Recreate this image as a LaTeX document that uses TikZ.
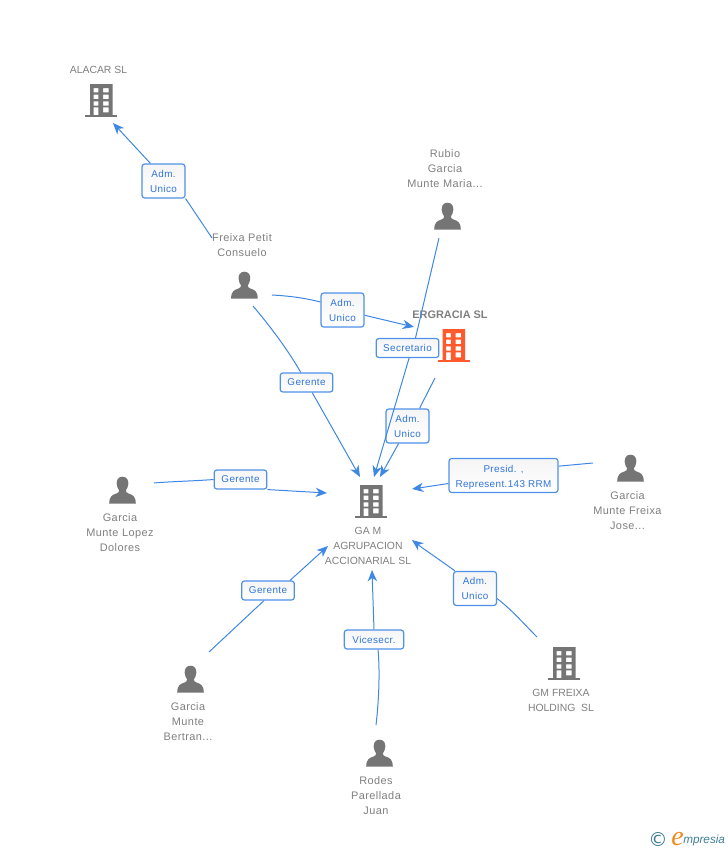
\documentclass[tikz,border=0pt]{standalone}
\usepackage{fontspec}
\setmainfont{Liberation Sans}
\newfontfamily\lsp[LetterSpace=4]{Liberation Sans}
\newfontfamily\logofont{DejaVu Sans}
\newfontfamily\logoe{Liberation Serif}
\usetikzlibrary{arrows.meta}
\definecolor{linkc}{HTML}{3F87E5}
\definecolor{boxc}{HTML}{4F90E8}
\definecolor{labc}{HTML}{2F74DC}
\definecolor{greyc}{HTML}{757575}
\definecolor{txtc}{HTML}{7F7F7F}
\definecolor{hot}{HTML}{FF5A2B}
\definecolor{logot}{HTML}{3F7F96}
\definecolor{logoo}{HTML}{F08A1D}
\definecolor{boxtop}{HTML}{F5F5F5}
\tikzset{
  x=0.75pt,y=-0.75pt,
  link/.style={draw=linkc,line width=0.75pt},
  arr/.style={link,-{Stealth[length=8.5pt,width=7pt,inset=2.6pt]}},
  relbox/.style={draw=boxc,line width=0.9pt,rounded corners=2pt,top color=boxtop,bottom color=white,
     text=labc,align=center,inner sep=0pt,font=\lsp\fontsize{7.4}{11.25}\selectfont},
  nametxt/.style={text=txtc,align=center,inner sep=0pt,font=\lsp\fontsize{8.2}{11.25}\selectfont},
  capstxt/.style={text=txtc,align=center,inner sep=0pt,font=\fontsize{7.8}{11.25}\selectfont},
  iconbox/.style={inner sep=0pt,minimum width=24pt,minimum height=24pt},
  pics/bldg/.style={code={
    \fill[#1,even odd rule] (-11,-16) rectangle (11.7,15)
      (-7.3,-12) rectangle (-2.7,-7.7) (2.2,-12) rectangle (7.5,-7.7)
      (-7.3,-5.3) rectangle (-2.7,-1) (2.2,-5.3) rectangle (7.5,-1)
      (-7.3,1.3) rectangle (-2.7,5.7) (2.2,1.3) rectangle (7.5,5.7)
      (-7.3,7.3) rectangle (-2.7,15) (2.2,7.3) rectangle (7.5,12.3);
    \fill[#1] (-15.7,14.8) rectangle (16,17.2);
  }},
  pics/pers/.style={code={
    \fill[greyc] (0,-13.8) .. controls (-4.5,-13.8) and (-6.2,-10) .. (-5.8,-6.5)
      .. controls (-5.5,-3.5) and (-4.5,-1.5) .. (-3.4,-0.2)
      .. controls (-3.4,1.5) and (-4,2.2) .. (-6,3)
      .. controls (-10,4.5) and (-13.2,5.2) .. (-13.3,13.2)
      -- (13.3,13.2)
      .. controls (13.2,5.2) and (10,4.5) .. (6,3)
      .. controls (4,2.2) and (3.4,1.5) .. (3.4,-0.2)
      .. controls (4.5,-1.5) and (5.5,-3.5) .. (5.8,-6.5)
      .. controls (6.2,-10) and (4.5,-13.8) .. (0,-13.8) -- cycle;
  }}
}
\begin{document}
\begin{tikzpicture}
\useasboundingbox (0,0) rectangle (728,850);
% icons
\pic at (101,100) {bldg=greyc};
\node[iconbox] (alacar) at (101,100) {};
\pic at (453.5,345) {bldg=hot};
\node[iconbox] (ergracia) at (453.5,345) {};
\pic at (371,501) {bldg=greyc};
\node[iconbox] (gam) at (371,501) {};
\pic at (564,663) {bldg=greyc};
\node[iconbox] (gmfreixa) at (564,663) {};
\pic at (244.4,285.5) {pers};
\node[iconbox] (freixa) at (244.4,285.5) {};
\pic at (447.5,216.5) {pers};
\node[iconbox] (rubio) at (447.5,216.5) {};
\pic at (630.5,468.5) {pers};
\node[iconbox] (josegm) at (630.5,468.5) {};
\pic at (122.5,490.5) {pers};
\node[iconbox] (lopez) at (122.5,490.5) {};
\pic at (190.5,679.5) {pers};
\node[iconbox] (bertran) at (190.5,679.5) {};
\pic at (379.5,753.5) {pers};
\node[iconbox] (rodes) at (379.5,753.5) {};
% names
\node[capstxt] (t1) at (98.5,70) {ALACAR SL};
\node[nametxt] (t2) at (242,245) {Freixa Petit\\Consuelo};
\node[nametxt] (t3) at (445,169) {Rubio\\Garcia\\Munte Maria...};
\node[nametxt,font=\bfseries\fontsize{8.2}{11.25}\selectfont] (t4) at (450,314.5) {ERGRACIA SL};
\node[capstxt] (t5) at (368,546) {GA M\\AGRUPACION\\ACCIONARIAL SL};
\node[nametxt] (t6) at (627.5,511) {Garcia\\Munte Freixa\\Jose...};
\node[nametxt] (t7) at (120,533) {Garcia\\Munte Lopez\\Dolores};
\node[nametxt] (t8) at (188,722) {Garcia\\Munte\\Bertran...};
\node[nametxt] (t9) at (376,796) {Rodes\\Parellada\\Juan};
\node[capstxt] (t10) at (561,700.5) {GM FREIXA\\HOLDING\ \ SL};
% relation labels
\node[relbox,minimum width=32.2pt,minimum height=25.5pt] (l1) at (163.5,181) {Adm.\\Unico};
\node[relbox,minimum width=32.2pt,minimum height=25.5pt] (l2) at (342.5,310) {Adm.\\Unico};
\node[relbox,minimum width=39.5pt,minimum height=14.2pt] (l3) at (306.5,382.5) {Gerente};
\node[relbox,minimum width=47pt,minimum height=14.2pt] (l4) at (407.5,348) {Secretario};
\node[relbox,minimum width=32.2pt,minimum height=25.5pt] (l5) at (407.5,426) {Adm.\\Unico};
\node[relbox,minimum width=81.7pt,minimum height=25.5pt] (l6) at (503.5,475.5) {\rule{0pt}{8.5pt}Presid. ,\\Represent.143 RRM};
\node[relbox,minimum width=39.5pt,minimum height=14.2pt] (l7) at (240.5,479.5) {Gerente};
\node[relbox,minimum width=39.5pt,minimum height=14.2pt] (l8) at (268,590.5) {Gerente};
\node[relbox,minimum width=44.5pt,minimum height=14.2pt] (l9) at (374,639.5) {Vicesecr.};
\node[relbox,minimum width=32.2pt,minimum height=25.5pt] (l10) at (475,588.5) {Adm.\\Unico};
% free connector ends
\coordinate (a1s) at (212,238); \coordinate (a1e) at (113,123);
\coordinate (a2s) at (272,295); \coordinate (a2e) at (414,327);
\coordinate (a3s) at (253,306); \coordinate (a3e) at (360,477);
\coordinate (a4s) at (439,238); \coordinate (a4e) at (374,477);
\coordinate (a5s) at (435,378); \coordinate (a5e) at (380,477);
\coordinate (a6s) at (593,463); \coordinate (a6e) at (412,489);
\coordinate (a7s) at (154,483); \coordinate (a7e) at (327,493);
\coordinate (a8s) at (209,652); \coordinate (a8e) at (328,546);
\coordinate (a9s) at (376,725); \coordinate (a9e) at (372,570);
\coordinate (a10s) at (537,637); \coordinate (a10e) at (412,540);
% connectors
\draw[link] (a1s) -- (l1.south east); \draw[arr] (l1.north west) ++(9,0) -- (a1e);
\draw[link] (a2s) .. controls (290,296) and (305,298) .. ([yshift=6pt]l2.west); \draw[arr] (l2) -- (a2e);
\draw[link] (a3s) .. controls (270,326) and (288,350) .. (l3); \draw[arr] (l3) -- (a3e);
\draw[link] (a4s) -- ([xshift=6pt]l4.north); \draw[arr] ([xshift=1.2pt]l4.south) -- (a4e);
\draw[link] (a5s) -- ([xshift=9pt]l5.north); \draw[arr] ([xshift=-6.7pt]l5.south) -- (a5e);
\draw[link] (a6s) -- ([yshift=7pt]l6.east); \draw[arr] ([yshift=-6pt]l6.west) -- (a6e);
\draw[link] (a7s) .. controls (170,481.5) and (195,481) .. (l7.west); \draw[arr] (l7.south east) -- (a7e);
\draw[link] (a8s) -- ([xshift=-3pt]l8.south); \draw[arr] ([xshift=-3.7pt]l8.north east) -- (a8e);
\draw[link] (a9s) .. controls (379,700) and (380,670) .. ([xshift=3pt]l9.south); \draw[arr] (l9.north) -- (a9e);
\draw[link] (a10s) .. controls (525,625) and (512,610) .. ([yshift=-7.5pt]l10.east); \draw[arr] ([xshift=1.5pt]l10.north west) .. controls (440,560) and (425,550) .. (a10e);
% logo
\node[inner sep=0pt,text=logot,font=\logofont\fontsize{14.5}{16}\selectfont] (lg1) at (658,839) {©};
\node[anchor=base west,inner sep=0pt,text=logoo,font=\logoe\itshape\fontsize{21}{21}\selectfont] (lg2) at (671,845) {e};
\node[anchor=base west,inner sep=0pt,text=logot,font=\itshape\fontsize{8.8}{10}\selectfont] (lg3) at (683,843) {mpresia};
\end{tikzpicture}
\end{document}
